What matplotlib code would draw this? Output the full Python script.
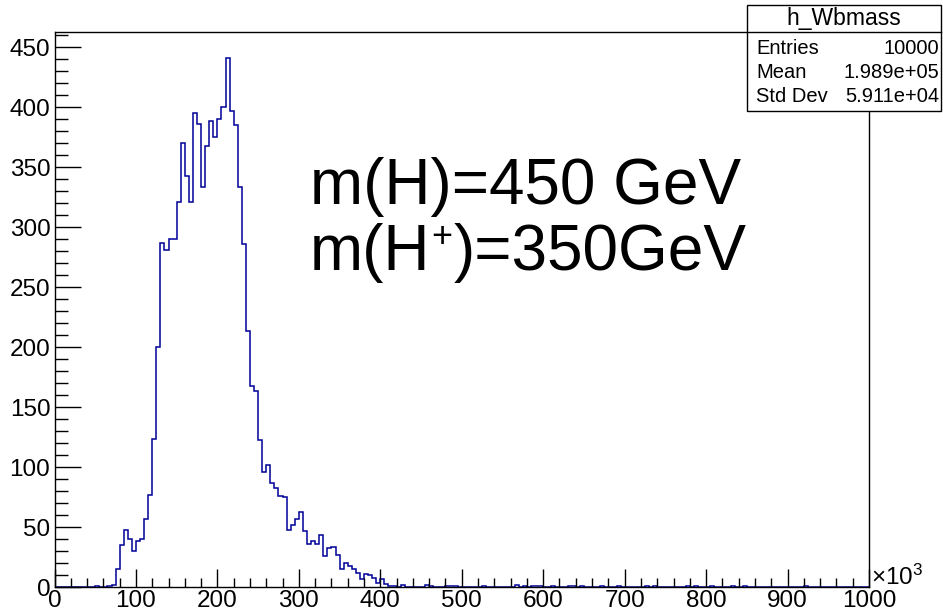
import numpy as np
import matplotlib
matplotlib.use("Agg")
import matplotlib.pyplot as plt
from matplotlib.patches import Rectangle
from matplotlib.lines import Line2D
from matplotlib.ticker import MultipleLocator

plt.rcParams['font.family'] = ['Liberation Sans', 'DejaVu Sans']
plt.rcParams['mathtext.fontset'] = 'custom'
plt.rcParams['mathtext.rm'] = 'Liberation Sans'
plt.rcParams['mathtext.it'] = 'Liberation Sans:italic'

# Histogram h_Wbmass: 200 bins of width 5 (x10^3) from 0 to 1000
bin_width = 5.0
x_min, x_max = 0.0, 1000.0

# Bulk of the distribution, one count per bin starting at x = 50
bulk_start = 50
bulk_counts = [
    1, 0, 0, 1, 2, 15, 35, 48, 40, 30,          # 50 - 95
    39, 40, 57, 77, 124, 200, 287, 281, 290, 290,  # 100 - 145
    321, 370, 343, 321, 395, 386, 334, 368, 389, 375,  # 150 - 195
    390, 400, 441, 397, 385, 334, 286, 214, 168, 164,  # 200 - 245
    123, 96, 102, 87, 83, 76, 75, 48, 52, 57,  # 250 - 295
    63, 47, 36, 39, 36, 44, 26, 33, 34, 27,    # 300 - 345
    15, 20, 18, 15, 12, 7, 11, 10, 8, 4,       # 350 - 395
    7, 3, 1, 1, 0, 2, 0, 0, 0, 0,              # 400 - 445
]

# Sparse tail: bin lower edges and counts
tail_edges = [455, 460, 480, 485, 490, 525, 565, 575, 585, 590, 595, 610,
              630, 635, 645, 670, 690, 725, 735, 775, 785, 805, 830, 845, 920]
tail_counts = [2, 1, 1, 1, 1, 1, 2, 1, 1, 1, 1, 1,
               1, 1, 1, 1, 1, 1, 1, 1, 1, 1, 1, 1, 1]

stats_title = "h_Wbmass"
stats_rows = [("Entries", "10000"), ("Mean", "1.989e+05"), ("Std Dev", "5.911e+04")]

label_line1 = "m(H)=450 GeV"
label_line2 = ("m(H", "+", ")=350GeV")

# Assemble full bin content
n_bins = int((x_max - x_min) / bin_width)
edges = np.linspace(x_min, x_max, n_bins + 1)
counts = np.zeros(n_bins)
i0 = int(bulk_start / bin_width)
counts[i0:i0 + len(bulk_counts)] = bulk_counts
for e, c in zip(tail_edges, tail_counts):
    counts[int(e / bin_width)] = c

W, H = 943, 613
fig = plt.figure(figsize=(W / 100, H / 100), dpi=100)
left, right, bottom, top = 54.5, 869, 587.3, 31.7
ax = fig.add_axes([left / W, 1 - bottom / H, (right - left) / W, (bottom - top) / H])

ax.stairs(counts, edges, color='#000099', linewidth=1.1, baseline=None)
ax.set_xlim(x_min, x_max)
ax.set_ylim(0, counts.max() * 1.05)

ax.xaxis.set_major_locator(MultipleLocator(100))
ax.xaxis.set_minor_locator(MultipleLocator(20))
ax.yaxis.set_major_locator(MultipleLocator(50))
ax.yaxis.set_minor_locator(MultipleLocator(10))
ax.tick_params(axis='both', which='both', direction='in', top=False, right=False,
               labelsize=17.5, width=1.0, color='black')
ax.tick_params(axis='x', which='major', length=13, pad=2)
ax.tick_params(axis='x', which='minor', length=6.5)
ax.tick_params(axis='y', which='major', length=18.5, pad=3)
ax.tick_params(axis='y', which='minor', length=9.5)
for s in ax.spines.values():
    s.set_linewidth(1.0)

fig.text(871 / W, 1 - 590 / H, r"$\times$10$^{3}$", fontsize=17.5, ha='left', va='bottom')

# Large annotation
fig.text(310 / W, 1 - 204 / H, label_line1, fontsize=46, ha='left', va='baseline')
renderer = fig.canvas.get_renderer()
x_cur = 310
t = fig.text(x_cur / W, 1 - 270 / H, label_line2[0], fontsize=46, ha='left', va='baseline')
x_cur += t.get_window_extent(renderer).width + 1
t = fig.text(x_cur / W, 1 - 247 / H, label_line2[1], fontsize=26, ha='left', va='baseline')
x_cur += t.get_window_extent(renderer).width + 1
fig.text(x_cur / W, 1 - 270 / H, label_line2[2], fontsize=46, ha='left', va='baseline')

# Statistics box
bx0, bx1, by0, by1, bsep = 747, 941, 5, 111, 32
fig.patches.append(Rectangle((bx0 / W, 1 - by1 / H), (bx1 - bx0) / W, (by1 - by0) / H,
                             transform=fig.transFigure, facecolor='white',
                             edgecolor='black', linewidth=1.0))
fig.lines.append(Line2D([bx0 / W, bx1 / W], [1 - bsep / H, 1 - bsep / H],
                        transform=fig.transFigure, color='black', linewidth=1.0))
fig.text((bx0 + bx1) / 2 / W, 1 - 19 / H, stats_title, fontsize=16.5, ha='center', va='center')
for k, (name, val) in enumerate(stats_rows):
    yy = 1 - (49 + k * 24) / H
    fig.text((bx0 + 9) / W, yy, name, fontsize=14.5, ha='left', va='center')
    fig.text((bx1 - 2) / W, yy, val, fontsize=14.5, ha='right', va='center')

fig.savefig("out.png", dpi=100)
